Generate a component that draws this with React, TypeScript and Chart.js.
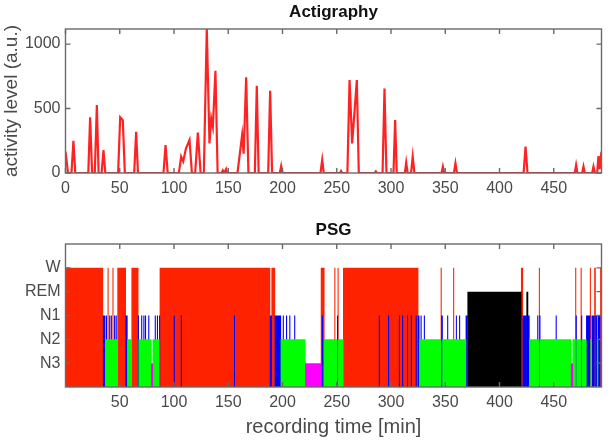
import React, { useEffect, useRef } from 'react';
import { Chart, registerables } from 'chart.js';

Chart.register(...registerables);

// ---------- Actigraphy data (minutes, activity level a.u.) ----------
const actiTime = [
  0, 2.3, 5.5, 7.3, 9, 21, 22.7, 24.5, 27, 28.9, 30.5, 33.3, 35, 36.7,
  48.5, 50.4, 52.8, 54.7, 63.3, 65.1, 66.8, 90.3, 92.2, 94.2,
  104.5, 106.6, 108.5, 111, 114.3, 116.5, 119.5, 122, 124.5,
  127.5, 130.2, 132.7, 134.3, 135.8, 138.2, 140.2,
  143.8, 145, 146.2, 147, 148, 149,
  158.5, 162.8, 164.2, 166.5, 168.6, 174.5, 176.3, 178, 186.8, 188.6, 190.4,
  197.5, 198.8, 200, 235, 236.6, 238, 253, 254, 255,
  259.8, 261.8, 264.2, 268.5, 270.3, 285, 286, 287,
  292.2, 294, 295.8, 302.3, 303.8, 305.3, 312.8, 314, 315.3, 318.5, 320, 321.6,
  346.6, 347.8, 349, 358, 359.4, 360.8, 422.2, 424, 425.8,
  469.4, 470.6, 471.8, 476.2, 477.4, 478.6, 485.4, 486.6, 488,
  490, 491.2, 492.3, 493.5, 494,
];
const actiLevel = [
  165, 0, 0, 250, 0, 0, 432, 0, 0, 527, 0, 0, 178, 0,
  0, 432, 410, 0, 0, 320, 0, 0, 217, 0,
  0, 127, 90, 190, 256, 0, 0, 313, 0,
  0, 1120, 230, 424, 360, 793, 0,
  0, 20, 0, 0, 30, 0,
  0, 295, 150, 742, 0, 0, 677, 0, 0, 638, 0,
  0, 54, 0, 0, 101, 0, 0, 15, 0,
  0, 721, 230, 721, 0, 0, 12, 0,
  0, 656, 0, 0, 411, 0, 0, 80, 0, 0, 127, 0,
  0, 49, 0, 0, 75, 0, 0, 204, 0,
  0, 62, 0, 0, 50, 0, 0, 50, 0,
  0, 132, 30, 132, 120,
];
const actiTicks = [0, 500, 1000];
const actiMax = 1117;
const timeTicksTop = [0, 50, 100, 150, 200, 250, 300, 350, 400, 450];

// ---------- PSG hypnogram (segment start in minutes, stage) ----------
const hypnoStart = [
  0, 34.5, 36.5, 37.5, 38, 39, 39.5, 40.5, 41, 42,
  42.5, 43.5, 44, 45, 45.5, 46.5, 47, 48, 55.5, 57,
  61, 67, 67.5, 70, 70.5, 72, 72.5, 73.5, 74, 76.5,
  77, 79, 80.5, 82.5, 83, 84.5, 85, 86.5, 87, 100,
  100.5, 106.5, 107, 155.5, 156, 188.5, 190, 193, 198.5, 200.5,
  201, 203.5, 204, 206.5, 207, 211, 211.5, 221, 235.5, 236.5,
  237, 238.5, 248, 248.5, 250.5, 251, 251.5, 256, 289, 289.5,
  297.5, 298, 307.5, 308, 310.5, 311, 315, 315.5, 318.5, 319,
  323, 323.5, 325, 326, 327.5, 328, 330.5, 331, 346, 346.5,
  347.5, 352, 352.5, 357.5, 358, 360, 360.5, 363, 363.5, 369,
  370.5, 420, 421.5, 425, 426.5, 427.5, 435, 435.5, 436.5, 437,
  437.5, 452, 452.5, 466, 467.5, 470, 470.5, 471, 475, 475.5,
  476, 480, 483.5, 484, 485, 487.5, 488.5, 490, 491, 493,
];
const hypnoStage = [
  'W', 'N1', 'N2', 'N1', 'N2', 'W', 'N2', 'N1', 'N2', 'N1',
  'N2', 'W', 'N2', 'N1', 'N2', 'N1', 'N2', 'W', 'N1', 'N2',
  'W', 'N1', 'N2', 'N1', 'N2', 'N1', 'N2', 'N1', 'N2', 'N1',
  'N2', 'N3', 'N2', 'N1', 'N2', 'N1', 'N2', 'N1', 'W', 'N1',
  'W', 'N1', 'W', 'N1', 'W', 'N1', 'W', 'N1', 'N2', 'N1',
  'N2', 'N1', 'N2', 'N1', 'N2', 'N1', 'N2', 'N3', 'W', 'N1',
  'W', 'N2', 'W', 'N2', 'N1', 'W', 'N2', 'W', 'N1', 'W',
  'N1', 'W', 'N1', 'W', 'N1', 'W', 'N1', 'W', 'N1', 'W',
  'N1', 'W', 'N1', 'N2', 'N1', 'N2', 'N1', 'N2', 'W', 'N1',
  'N2', 'N1', 'N2', 'W', 'N2', 'N1', 'N2', 'N1', 'N2', 'N1',
  'REM', 'W', 'N1', 'REM', 'N1', 'N2', 'N1', 'N2', 'W', 'N1',
  'N2', 'N1', 'N2', 'N3', 'N2', 'W', 'N1', 'N2', 'W', 'N1',
  'N2', 'N1', 'W', 'N2', 'N1', 'W', 'N1', 'N2', 'N1', 'W',
];
const hypnoEnd = 494;
const stageNames = ['N3', 'N2', 'N1', 'REM', 'W'];
const stageColors: Record<string, string> = {
  W: '#ff2200',
  REM: '#000000',
  N1: '#0000ff',
  N2: '#00ff00',
  N3: '#ff00ff',
};
const timeTicksPsg = [50, 100, 150, 200, 250, 300, 350, 400, 450];

// ---------- styling ----------
const FONT = "'Liberation Sans', Arial, Helvetica, sans-serif";
const TEXT = '#4a4a4a';
const EPOCH_OVERLAP = 0.25; // bars drawn slightly wider than the epoch, like MATLAB bars

const boxPlugin = {
  id: 'matlabBox',
  afterDatasetsDraw(chart: any) {
    const { ctx, chartArea } = chart;
    const { left, right, top, bottom } = chartArea;
    const x = chart.scales.x;
    const y = chart.scales.y;
    ctx.save();
    ctx.strokeStyle = '#6a6a6a';
    ctx.lineWidth = 1.4;
    ctx.strokeRect(left, top, right - left, bottom - top);
    const len = 5;
    ctx.beginPath();
    x.ticks.forEach((t: any) => {
      const px = x.getPixelForValue(t.value);
      ctx.moveTo(px, bottom);
      ctx.lineTo(px, bottom - len);
      ctx.moveTo(px, top);
      ctx.lineTo(px, top + len);
    });
    y.ticks.forEach((t: any) => {
      const py = y.getPixelForValue(t.value);
      ctx.moveTo(left, py);
      ctx.lineTo(left + len, py);
      ctx.moveTo(right, py);
      ctx.lineTo(right - len, py);
    });
    ctx.stroke();
    ctx.restore();
  },
};

function buildHypnoDatasets() {
  // Chart.js paints the last dataset first, so W ends up underneath and N3 on top
  const order = ['N3', 'N2', 'N1', 'REM', 'W'];
  return order.map((st) => {
    const level = stageNames.indexOf(st) + 1;
    const pts: { x: number; y: number }[] = [];
    hypnoStart.forEach((s, i) => {
      if (hypnoStage[i] !== st) return;
      const e = i + 1 < hypnoStart.length ? hypnoStart[i + 1] : hypnoEnd;
      const x0 = Math.max(0, s - EPOCH_OVERLAP);
      const x1 = Math.min(hypnoEnd, e + EPOCH_OVERLAP);
      const last = pts[pts.length - 1];
      if (last && last.x >= x0) {
        pts.pop();
      }
      pts.push({ x: x0, y: level }, { x: x1, y: 0 });
    });
    return {
      label: st,
      data: pts,
      stepped: true,
      fill: 'origin',
      backgroundColor: stageColors[st],
      borderColor: 'rgba(0,0,0,0)',
      borderWidth: 0,
      pointRadius: 0,
    };
  });
}

export default function App() {
  const topRef = useRef<HTMLCanvasElement | null>(null);
  const psgRef = useRef<HTMLCanvasElement | null>(null);

  useEffect(() => {
    const xTickFont = { family: FONT, size: 16 };
    const top = new Chart(topRef.current as HTMLCanvasElement, {
      type: 'line',
      data: {
        datasets: [
          {
            label: 'activity',
            data: actiTime.map((t, i) => ({ x: t, y: actiLevel[i] })),
            borderColor: 'rgba(255,10,10,0.9)',
            borderWidth: 2.2,
            pointRadius: 0,
            tension: 0,
            fill: false,
          },
        ],
      },
      options: {
        animation: false,
        responsive: false,
        layout: { padding: { left: 0, right: 8.5, top: 0, bottom: 0 } },
        plugins: {
          legend: { display: false },
          tooltip: { enabled: false },
          title: {
            display: true,
            fullSize: false,
            text: 'Actigraphy',
            color: '#111',
            font: { family: FONT, size: 17, weight: 'bold' },
            padding: { top: 2, bottom: 6.6 },
          },
        },
        scales: {
          x: {
            type: 'linear',
            min: 0,
            max: hypnoEnd,
            grid: { display: false, drawTicks: false },
            border: { display: false },
            afterBuildTicks: (s: any) => {
              s.ticks = timeTicksTop.map((v) => ({ value: v }));
            },
            ticks: {
              color: TEXT,
              font: xTickFont,
              padding: 6,
              maxRotation: 0,
              autoSkip: false,
              callback: (v: any) => String(v),
            },
            afterFit: (s: any) => {
              s.height = 27;
            },
          },
          y: {
            min: 0,
            max: actiMax,
            grid: { display: false, drawTicks: false },
            border: { display: false },
            afterBuildTicks: (s: any) => {
              s.ticks = actiTicks.map((v) => ({ value: v }));
            },
            ticks: {
              color: TEXT,
              font: { family: FONT, size: 16 },
              padding: 5,
              callback: (v: any) => String(v),
            },
            title: {
              display: true,
              text: 'activity level (a.u.)',
              color: TEXT,
              font: { family: FONT, size: 19 },
              padding: { top: 0, bottom: 0 },
            },
            afterFit: (s: any) => {
              s.width = 65.5;
            },
          },
        },
      } as any,
      plugins: [boxPlugin],
    });

    const psg = new Chart(psgRef.current as HTMLCanvasElement, {
      type: 'line',
      data: { datasets: buildHypnoDatasets() as any },
      options: {
        animation: false,
        responsive: false,
        layout: { padding: { left: 0, right: 8.5, top: 0, bottom: 0 } },
        plugins: {
          legend: { display: false },
          tooltip: { enabled: false },
          title: {
            display: true,
            fullSize: false,
            text: 'PSG',
            color: '#111',
            font: { family: FONT, size: 17, weight: 'bold' },
            padding: { top: 19.8, bottom: 3.8 },
          },
        },
        scales: {
          x: {
            type: 'linear',
            min: 0,
            max: hypnoEnd,
            grid: { display: false, drawTicks: false },
            border: { display: false },
            afterBuildTicks: (s: any) => {
              s.ticks = timeTicksPsg.map((v) => ({ value: v }));
            },
            ticks: {
              color: TEXT,
              font: xTickFont,
              padding: 6,
              maxRotation: 0,
              autoSkip: false,
              callback: (v: any) => String(v),
            },
            title: {
              display: true,
              text: 'recording time [min]',
              color: TEXT,
              font: { family: FONT, size: 20 },
              padding: { top: 0, bottom: 5 },
            },
            afterFit: (s: any) => {
              s.height = 57;
            },
          },
          y: {
            min: 0,
            max: 6,
            grid: { display: false, drawTicks: false },
            border: { display: false },
            afterBuildTicks: (s: any) => {
              s.ticks = [1, 2, 3, 4, 5].map((v) => ({ value: v }));
            },
            ticks: {
              color: TEXT,
              font: { family: FONT, size: 16 },
              padding: 5,
              callback: (v: any) => stageNames[Number(v) - 1] ?? '',
            },
            afterFit: (s: any) => {
              s.width = 65.5;
            },
          },
        },
      } as any,
      plugins: [boxPlugin],
    });

    return () => {
      top.destroy();
      psg.destroy();
    };
  }, []);

  return (
    <div
      style={{
        position: 'absolute',
        left: 0,
        top: 0,
        width: 610,
        height: 444,
        background: '#fff',
      }}
    >
      <canvas
        ref={topRef}
        width={610}
        height={200}
        style={{ position: 'absolute', left: 0, top: 0, width: 610, height: 200 }}
      />
      <canvas
        ref={psgRef}
        width={610}
        height={244}
        style={{ position: 'absolute', left: 0, top: 200, width: 610, height: 244 }}
      />
    </div>
  );
}
